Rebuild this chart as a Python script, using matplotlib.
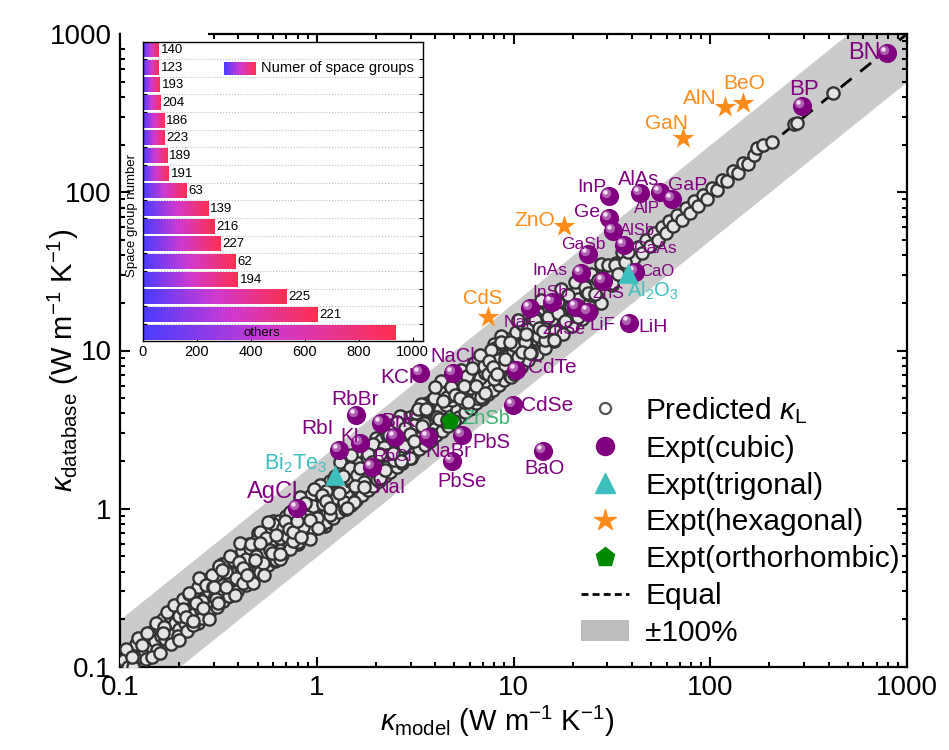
import numpy as np
import matplotlib
matplotlib.use("Agg")
import matplotlib.pyplot as plt
from matplotlib.lines import Line2D
from matplotlib.patches import Patch, Rectangle
from matplotlib.colors import LinearSegmentedColormap
from matplotlib.transforms import ScaledTranslation
from matplotlib.ticker import FixedLocator, LogLocator, NullFormatter, FuncFormatter

plt.rcParams.update({"font.family": "Liberation Sans", "mathtext.fontset": "custom",
                     "mathtext.rm": "Liberation Sans", "mathtext.it": "Liberation Sans:italic",
                     "mathtext.bf": "Liberation Sans:bold"})

# ---- predicted kappa_L (model, database) ----
pred = [(0.105,0.11),(0.11,0.1),(0.112,0.125),(0.118,0.108),(0.12,0.14),(0.125,0.118),(0.128,0.15),
 (0.132,0.128),(0.135,0.112),(0.14,0.155),(0.143,0.135),(0.147,0.17),(0.15,0.145),(0.155,0.128),
 (0.158,0.18),(0.162,0.158),(0.166,0.2),(0.17,0.15),(0.175,0.175),(0.18,0.21),(0.184,0.16),(0.19,0.19),
 (0.195,0.23),(0.2,0.175),(0.205,0.205),(0.21,0.25),(0.215,0.19),(0.22,0.23),(0.227,0.2),(0.233,0.27),
 (0.24,0.22),(0.245,0.25),(0.25,0.3),(0.257,0.23),(0.265,0.27),(0.27,0.33),(0.278,0.25),(0.285,0.3),
 (0.29,0.24),(0.3,0.35),(0.305,0.28),(0.315,0.32),(0.32,0.38),(0.33,0.29),(0.34,0.34),(0.345,0.41),
 (0.355,0.31),(0.365,0.37),(0.37,0.3),(0.38,0.45),(0.39,0.36),(0.4,0.41),(0.41,0.34),(0.42,0.5),
 (0.43,0.39),(0.44,0.45),(0.45,0.38),(0.46,0.55),(0.47,0.43),(0.485,0.5),(0.5,0.41),(0.51,0.58),
 (0.52,0.48),(0.535,0.54),(0.55,0.45),(0.56,0.64),(0.575,0.53),(0.59,0.6),(0.6,0.5),(0.615,0.7),
 (0.63,0.58),(0.645,0.66),(0.66,0.55),(0.675,0.77),(0.69,0.64),(0.705,0.72),(0.72,0.6),(0.74,0.85),
 (0.755,0.7),(0.77,0.79),(0.79,0.66),(0.81,0.93),(0.83,0.77),(0.85,0.87),(0.87,0.73),(0.89,1.02),
 (0.91,0.85),(0.93,0.95),(0.95,0.8),(0.97,1.1),(0.99,0.92),
 (1.01,1.04),(1.03,0.86),(1.06,1.22),(1.08,0.99),(1.1,1.12),(1.13,0.93),(1.15,1.35),(1.18,1.08),
 (1.2,1.24),(1.23,1.0),(1.26,1.46),(1.29,1.18),(1.32,1.36),(1.35,1.12),(1.38,1.6),(1.41,1.3),
 (1.44,1.49),(1.47,1.21),(1.5,1.74),(1.54,1.42),(1.57,1.62),(1.61,1.33),(1.64,1.9),(1.68,1.54),
 (1.72,1.77),(1.76,1.45),(1.8,2.06),(1.84,1.69),(1.88,1.94),(1.92,1.58),(1.97,2.25),(2.01,1.85),
 (2.06,2.12),(2.1,1.74),(2.15,2.46),(2.2,2.02),(2.25,2.32),(2.3,1.9),(2.35,2.7),(2.4,2.2),
 (2.46,2.54),(2.52,2.08),(2.57,2.95),(2.63,2.42),(2.69,2.78),(2.75,2.27),(2.81,3.22),(2.88,2.65),
 (2.94,3.03),(3.01,2.48),(3.08,3.53),(3.15,2.9),(3.22,3.32),(3.29,2.72),(3.37,3.86),(3.44,3.17),
 (3.52,3.63),(3.6,2.97),(3.68,4.22),(3.77,3.47),(3.85,3.97),(3.94,3.25),(4.03,4.62),(4.12,3.79),
 (4.21,4.34),(4.31,3.56),(4.41,5.05),(4.51,4.15),(4.61,4.75),(4.71,3.89),(4.82,5.52),(4.93,4.54),
 (5.04,5.2),(5.15,4.25),(5.27,6.04),(5.39,4.96),(5.51,5.68),(5.64,4.65),(5.77,6.6),(5.9,5.43),
 (6.03,6.22),(6.17,5.08),(6.31,7.22),(6.45,5.93),(6.6,6.8),(6.75,5.56),(6.9,7.9),(7.06,6.5),
 (7.22,7.44),(7.38,6.08),(7.55,8.64),(7.72,7.1),(7.9,8.14),(8.08,6.65),(8.26,9.45),(8.45,7.77),
 (8.64,8.9),(8.84,7.28),(9.04,10.3),(9.25,8.5),(9.46,9.75),(9.67,7.96),(9.89,11.3),
 (0.33,0.45),(0.5,0.7),(0.8,0.6),(1.4,1.0),(2.0,2.8),(3.0,2.1),(4.5,6.3),(6.0,4.3),(1.7,2.4),
 (2.7,3.8),(5.0,3.6),(8.0,11.0),(0.25,0.19),(0.6,0.84),(1.1,0.78),(7.0,5.0),
 (10.1,9.3),(10.4,10.9),(10.7,8.8),(11.0,12.6),(11.4,10.5),(11.8,12.2),(12.2,10.0),(12.6,14.4),
 (13.0,11.9),(13.5,13.9),(14.0,11.5),(14.5,16.6),(15.0,13.8),(15.6,16.1),(16.2,13.3),(16.8,19.3),
 (17.5,16.1),(18.2,18.8),(19.0,15.6),(19.8,22.7),(20.6,19.0),(21.5,22.2),(22.4,18.4),(23.4,26.9),
 (24.4,22.4),(25.5,26.3),(26.6,21.8),(27.8,31.9),(29.0,26.7),(30.3,31.3),(31.6,26.0),
 (33.0,35.5),(34.5,32.0),(36.0,38.0),(37.6,34.0),(39.3,42.0),(41.0,38.5),(43.0,45.0),(45.0,41.5),
 (47.0,50.0),(49.3,46.0),(51.6,55.0),(54.0,50.0),(56.6,60.0),(59.3,55.5),(62.0,66.0),(65.0,61.0),
 (68.0,72.0),(71.5,67.0),(75.0,79.0),(79.0,74.0),(83.0,88.0),(87.0,82.0),(91.5,96.0),(96.0,91.0),
 (102,107),(108,103),(115,120),(122,118),(130,136),(138,133),(147,152),(156,150),(166,172),
 (173,190),(185,199),(206,208),(266,270),(276,274),(421,424),
 (0.107,0.13),(0.116,0.1),(0.123,0.152),(0.137,0.165),(0.146,0.115),(0.152,0.19),(0.16,0.123),
 (0.168,0.178),(0.173,0.222),(0.182,0.14),(0.188,0.245),(0.197,0.158),(0.208,0.27),(0.218,0.17),
 (0.225,0.29),(0.236,0.185),(0.248,0.32),(0.26,0.205),(0.274,0.355),(0.282,0.22),(0.295,0.38),
 (0.31,0.24),(0.325,0.42),(0.335,0.26),(0.35,0.46),(0.36,0.28),(0.375,0.49),(0.395,0.3),(0.415,0.54),
 (0.435,0.33),(0.455,0.6),(0.475,0.37),(0.49,0.63),(0.515,0.4),(0.545,0.71),(0.565,0.44),
 (0.585,0.76),(0.61,0.47),(0.64,0.84),(0.665,0.51),(0.7,0.9),(0.73,0.56),(0.76,0.98),(0.8,0.62),
 (0.84,1.09),(0.88,0.68),(0.92,1.2),(0.96,0.74),
 (0.115,0.115),(0.13,0.138),(0.165,0.165),(0.2,0.21),(0.26,0.26),(0.31,0.3),(0.36,0.36),
 (0.41,0.42),(0.47,0.47),(0.53,0.52),(0.58,0.59),(0.65,0.65),(0.71,0.7),(0.78,0.78),(0.86,0.86),
 (0.94,0.95),
 (1.02,1.32),(1.05,0.78),(1.09,1.41),(1.12,0.82),(1.17,1.5),(1.21,0.88),(1.25,1.62),(1.3,0.95),
 (1.34,1.73),(1.39,1.0),(1.43,1.85),(1.49,1.06),(1.53,1.98),(1.59,1.14),(1.63,2.1),(1.7,1.22),
 (1.75,2.24),(1.82,1.31),(1.86,2.4),(1.94,1.4),(1.99,2.56),(2.08,1.5),(2.13,2.73),(2.22,1.6),
 (2.28,2.92),(2.37,1.7),(2.43,3.12),(2.55,1.83),(2.6,3.33),(2.72,1.95),(2.78,3.55),(2.9,2.08),
 (2.98,3.8),(3.1,2.23),(3.18,4.05),(3.3,2.38),(3.4,4.35),(3.54,2.54),(3.63,4.63),(3.79,2.72),
 (3.88,4.95),(4.05,2.91),(4.15,5.3),(4.33,3.1),(4.45,5.66),(4.63,3.32),(4.75,6.05),(4.95,3.55),
 (5.08,6.45),(5.3,3.8),(5.44,6.9),(5.66,4.06),(5.8,7.36),(6.05,4.34),(6.2,7.87),(6.47,4.64),
 (6.63,8.4),(6.92,4.96),(7.1,9.0),(7.4,5.3),(7.6,9.6),(7.9,5.66),(8.1,10.3),(8.45,6.05),(8.7,11.0),
 (9.0,6.47),(9.3,11.8),(9.6,6.9),
 (1.04,1.05),(1.16,1.16),(1.27,1.28),(1.37,1.37),(1.48,1.5),(1.6,1.6),(1.73,1.72),(1.87,1.88),
 (2.03,2.03),(2.18,2.2),(2.34,2.33),(2.5,2.52),(2.68,2.68),(2.87,2.88),(3.07,3.06),(3.28,3.3),
 (3.5,3.5),(3.73,3.74),(3.98,3.98),(4.25,4.26),(4.54,4.53),(4.85,4.86),(5.18,5.17),(5.53,5.55),
 (5.9,5.9),(6.3,6.3),(6.72,6.73),(7.17,7.16),(7.65,7.67),(8.16,8.15),(8.7,8.72),(9.3,9.29),
 (9.9,9.92),
 (10.3,13.0),(10.9,7.9),(11.3,14.2),(11.9,8.7),(12.4,15.6),(13.1,9.5),(13.7,17.0),(14.4,10.4),
 (15.2,18.6),(16.0,11.5),(16.9,20.4),(17.8,12.8),(18.8,22.3),(19.9,14.2),(21.0,24.5),(22.2,15.8),
 (23.5,26.8),(24.9,17.7),(26.3,29.3),(27.9,20.0),(10.5,10.5),(11.6,11.6),(12.8,12.9),(14.2,14.2),
 (15.7,15.7),(17.3,17.3),(19.2,19.1),(21.2,21.3),(23.4,23.4),(25.9,25.8),(28.6,28.6),(31.5,31.6)]

# more of the dense middle of the cloud (read as a band, estimated)
pred2_x = [0.2,0.208,0.216,0.225,0.234,0.243,0.253,0.263,0.274,0.285,0.296,0.308,0.32,0.333,0.346,
 0.36,0.375,0.39,0.405,0.421,0.438,0.456,0.474,0.493,0.513,0.533,0.555,0.577,0.6,0.624,
 0.649,0.675,0.702,0.73,0.759,0.79,0.821,0.854,0.888,0.924,0.961,0.999,1.04,1.08,1.12,
 1.17,1.22,1.26,1.31,1.37,1.42,1.48,1.54,1.6,1.66,1.73,1.8,1.87,1.94,2.02,
 2.1,2.19,2.27,2.36,2.46,2.56,2.66,2.77,2.88,2.99,3.11,3.24,3.37,3.5,3.64,
 3.79,3.94,4.1,4.26,4.43,4.61,4.79,4.98,5.18,5.39,5.6,5.83,6.06,6.3,6.56,
 6.82,7.09,7.38,7.67,7.98,8.3,8.63,8.98,9.34,9.71,10.1,10.5,10.9,11.4,11.8,
 12.3,12.8,13.3,13.8,14.4,14.9,15.5,16.1,16.8,17.5,18.2,18.9,19.7,20.5,21.3,
 22.1,23.0,23.9,24.9,25.9,26.9,28.0,29.1,30.3,31.5,32.7,34.0,35.4,36.8,38.3]
pred2_y = [0.148,0.233,0.207,0.295,0.194,0.255,0.364,0.237,0.329,0.2,0.32,0.268,0.435,0.33,0.401,
 0.281,0.476,0.363,0.608,0.341,0.482,0.561,0.341,0.503,0.718,0.453,0.655,0.548,0.798,0.474,
 0.48,0.756,0.674,0.956,0.63,0.83,1.18,0.769,1.066,0.647,1.038,0.869,1.414,1.069,1.3,
 0.913,1.549,1.172,1.965,1.11,1.562,1.82,1.109,1.632,2.324,1.47,2.124,1.777,2.58,1.535,
 1.554,2.453,2.179,3.092,2.042,2.688,3.83,2.493,3.456,2.093,3.359,2.819,4.583,3.465,4.222,
 2.956,5.004,3.813,6.39,3.588,5.071,5.892,3.586,5.284,7.546,4.76,6.879,5.757,8.379,4.986,
 5.047,7.941,7.085,10.05,6.623,8.715,12.43,8.082,11.21,6.797,10.91,9.135,14.82,11.29,13.69,
 9.594,16.26,12.37,20.7,11.66,16.39,19.07,11.59,17.14,24.5,15.47,22.3,18.72,27.27,16.19,
 18.1,25.3,23.2,30.4,22.8,28.0,35.0,26.8,34.8,26.8,34.7,30.6,41.8,36.4,42.1]
pred3_x = [0.3,0.315,0.33,0.347,0.364,0.382,0.401,0.421,0.442,0.464,0.487,0.512,0.537,0.564,0.592,
 0.622,0.653,0.686,0.72,0.756,0.794,0.834,0.875,0.919,0.965,1.013,1.064,1.117,1.173,1.232,
 1.293,1.358,1.426,1.497,1.572,1.65,1.733,1.82,1.911,2.006,2.107,2.212,2.323,2.439,2.561,
 2.689,2.823,2.964,3.113,3.268,3.432,3.603,3.783,3.973,4.171,4.38,4.599,4.829,5.07,5.324,
 5.59,5.87,6.163,6.471,6.795,7.135,7.492,7.866,8.259,8.672,9.106,9.561,10.04,10.54,11.07,
 11.62,12.2,12.81,13.45,14.12]
pred3_y = [0.318,0.252,0.413,0.319,0.502,0.287,0.461,0.421,0.38,0.603,0.472,0.609,0.381,0.829,0.527,
 0.678,0.516,0.837,0.742,0.711,0.842,0.667,1.094,0.845,1.332,0.76,1.224,1.117,1.009,1.602,
 1.254,1.616,1.012,2.2,1.399,1.799,1.369,2.22,1.968,1.886,2.233,1.77,2.904,2.244,3.534,
 2.017,3.246,2.964,2.677,4.248,3.329,4.288,2.686,5.84,3.712,4.774,3.633,5.891,5.222,5.005,
 5.925,4.696,7.704,5.953,9.377,5.351,8.616,7.866,7.103,11.27,8.833,11.38,7.128,15.49,9.852,
 12.67,9.638,15.63,13.85,13.27]
pred_x = [p[0] for p in pred] + pred2_x + pred3_x
pred_y = [p[1] for p in pred] + pred2_y + pred3_y

# ---- experiments ----
cubic_names = ["BN","BP","InP","AlAs","AlP","GaP","Ge","AlSb","GaAs","GaSb","InAs","CaO","ZnS",
               "InSb","NaF","ZnSe","LiF","LiH","NaCl","KCl","CdTe","CdSe","RbBr","BrK","KI","RbCl",
               "NaBr","PbS","PbSe","BaO","RbI","NaI","AgCl"]
cubic_x = [791,292,30.5,44,55.6,64,30.5,32,36.5,23.9,22.0,41.5,28.5,15.7,12.1,20.8,23.9,38.6,
           4.92,3.35,10.3,9.94,1.58,2.12,1.66,2.50,3.67,5.47,4.86,14.1,1.30,1.91,0.794]
cubic_y = [759,351,94.6,98.9,100,90.5,68.5,56.9,46.4,40.6,30.8,31.3,27.6,20.2,18.5,18.9,17.6,15.0,
           7.21,7.21,7.54,4.53,3.91,3.48,2.60,2.84,2.84,2.92,2.0,2.32,2.35,1.84,1.01]
trig_names = ["Al$_2$O$_3$","Bi$_2$Te$_3$"]
trig_x = [38.2,1.24]
trig_y = [30.8,1.63]
hex_names = ["CdS","ZnO","GaN","AlN","BeO"]
hex_x = [7.41,18.1,72.8,119,147]
hex_y = [16.3,61.2,220,346,367]
orth_names = ["ZnSb"]
orth_x = [4.75]
orth_y = [3.59]

# ---- inset: space groups ----
sg_labels = ["140","123","193","204","186","223","189","191","63","139","216","227","62","194",
             "225","221","others"]
sg_counts = [58,58,62,64,79,80,91,95,160,242,265,288,343,352,531,648,936]

# label layout: (dx px, dy px, fontsize)
LAB = {"BN":(-23,0,17),"BP":(2,16,16),"InP":(-17,9,14),"AlAs":(-1,14,14.5),"AlP":(-13,-16,12),
 "GaP":(16,14,14),"Ge":(-22,6,14),"AlSb":(25,1,12),"GaAs":(31,-3,12.5),"GaSb":(-5,10,12.5),
 "InAs":(-31,3,12.5),"CaO":(22,1,12),"ZnS":(5,-13,12.5),"InSb":(-2,10,12.5),"NaF":(-10,-14,12.5),
 "ZnSe":(-12,-23,13),"LiF":(14,-14,13.5),"LiH":(24,-5,14),"NaCl":(0,16,14.5),"KCl":(-23,-5,15),
 "CdTe":(36,2,15),"CdSe":(34,-1,15),"RbBr":(-1,16,15),"BrK":(18,2,15),"KI":(-10,7,14.5),
 "RbCl":(-2,-19,12.5),"NaBr":(20,-14,14.5),"PbS":(29,-7,14.5),"PbSe":(10,-20,14.5),"BaO":(2,-18,14.5),
 "RbI":(-22,22,15),"NaI":(18,-21,14.5),"AgCl":(-24,16,17),"Al$_2$O$_3$":(25,-18,14.5),
 "Bi$_2$Te$_3$":(-40,12,15.5),"CdS":(-5,18,14.5),"ZnO":(-29,5,15),"GaN":(-17,15,15),
 "AlN":(-25,8,15),"BeO":(1,19,15),"ZnSb":(36,2,14.5)}

PUR = "#800080"; CYA = "#3ebfbf"; ORA = "#ff8c1a"; GRE = "#008a00"; GRE_T = "#3cb371"

fig = plt.figure(figsize=(9.49, 7.5), dpi=100)
ax = fig.add_axes([120/949, 1-667/750, 787/949, 633/750])
ax.set_xscale("log"); ax.set_yscale("log")
ax.set_xlim(0.1, 1000); ax.set_ylim(0.1, 1000)

diag = np.array([0.1, 1000])
ax.fill_between(diag, diag/2, diag*2, color="#cbcbcb", lw=0, zorder=1)
ax.plot(diag, diag, color="k", lw=2, ls=(0, (5, 4)), zorder=2)
ax.scatter(pred_x, pred_y, s=78, facecolor="#e4e4e4", edgecolor="#333333", lw=1.7, zorder=3)

ax.scatter(cubic_x, cubic_y, s=190, color=PUR, lw=0, zorder=5)
hl1 = ax.transData + ScaledTranslation(-2/72, 2/72, fig.dpi_scale_trans)
hl2 = ax.transData + ScaledTranslation(-3/72, 3/72, fig.dpi_scale_trans)
ax.scatter(cubic_x, cubic_y, s=45, color="#b060b0", lw=0, zorder=5, transform=hl1)
ax.scatter(cubic_x, cubic_y, s=10, color="#f4e0f4", lw=0, zorder=5, transform=hl2)
ax.scatter(trig_x, trig_y, s=220, marker="^", color=CYA, lw=0, zorder=5)
ax.scatter(hex_x, hex_y, s=270, marker="*", color=ORA, lw=0, zorder=5)
ax.scatter(orth_x, orth_y, s=190, marker="p", color=GRE, lw=0, zorder=5)

def label(names, xs, ys, color):
    for n, x, y in zip(names, xs, ys):
        dx, dy, fs = LAB[n]
        ax.annotate(n, (x, y), xytext=(dx*0.72, dy*0.72), textcoords="offset points",
                    ha="center", va="center", fontsize=fs, color=color, zorder=6)

label(cubic_names, cubic_x, cubic_y, PUR)
label(trig_names, trig_x, trig_y, CYA)
label(hex_names, hex_x, hex_y, ORA)
label(orth_names, orth_x, orth_y, GRE_T)

major = [0.1, 1, 10, 100, 1000]
for a in (ax.xaxis, ax.yaxis):
    a.set_major_locator(FixedLocator(major))
    a.set_major_formatter(FuncFormatter(lambda v, p: f"{v:g}"))
    a.set_minor_locator(LogLocator(base=10, subs=np.arange(2, 10)))
    a.set_minor_formatter(NullFormatter())
ax.tick_params(which="both", direction="in", top=True, right=True, width=1.5, labelsize=20)
ax.tick_params(which="major", length=7, pad=6)
ax.tick_params(which="minor", length=3.5)
for s in ax.spines.values():
    s.set_linewidth(1.6)

ax.set_xlabel(r"$\kappa_{\mathrm{model}}$ (W m$^{-1}$ K$^{-1}$)", fontsize=21)
ax.set_ylabel(r"$\kappa_{\mathrm{database}}$ (W m$^{-1}$ K$^{-1}$)", fontsize=21)
ax.xaxis.set_label_coords(0.48, -0.058)
ax.yaxis.set_label_coords(-0.05, 0.485)

handles = [Line2D([], [], ls="none", marker="o", ms=8, mfc="white", mec="#555555", mew=1.6),
           Line2D([], [], ls="none", marker="o", ms=13, mfc=PUR, mec=PUR),
           Line2D([], [], ls="none", marker="^", ms=14, mfc=CYA, mec=CYA),
           Line2D([], [], ls="none", marker="*", ms=16, mfc=ORA, mec=ORA),
           Line2D([], [], ls="none", marker="p", ms=14, mfc=GRE, mec=GRE),
           Line2D([], [], color="k", lw=2, ls=(0, (2.5, 1.5))),
           Patch(facecolor="#bdbdbd", edgecolor="none")]
labels = [r"Predicted $\kappa_{\mathrm{L}}$", "Expt(cubic)", "Expt(trigonal)", "Expt(hexagonal)",
          "Expt(orthorhombic)", "Equal", "±100%"]
ax.legend(handles, labels, loc="upper left", bbox_to_anchor=(0.586, 0.43), frameon=False,
          fontsize=21.5, handlelength=1.6, handletextpad=0.55, labelspacing=0.3,
          borderaxespad=0, borderpad=0)

# cover over top-left spine (as in original)
fig.patches.append(Rectangle((121/949, 1-43/750), 87/949, 14/750, transform=fig.transFigure,
                             facecolor="white", edgecolor="none", zorder=2))

# ---- inset ----
cmap = LinearSegmentedColormap.from_list("bg", ["#4a3cff", "#cf3ad2", "#ff3050"])
grad = np.linspace(0, 1, 256).reshape(1, -1)
axi = fig.add_axes([142.7/949, 1-341/750, 280.6/949, 299.3/750])
axi.set_zorder(3)
for i, v in enumerate(sg_counts):
    axi.imshow(grad, extent=[0, v, i+0.4, i-0.4], cmap=cmap, aspect="auto", zorder=2,
               interpolation="bilinear")
    if sg_labels[i] == "others":
        axi.text(v*0.47, i, sg_labels[i], ha="center", va="center", fontsize=9.5, zorder=3)
    else:
        axi.text(v+8, i, sg_labels[i], ha="left", va="center", fontsize=9.5, zorder=3)
axi.set_xlim(0, 1040)
axi.set_ylim(len(sg_counts)-0.53, -0.47)
axi.set_xticks([0, 200, 400, 600, 800, 1000])
axi.set_yticks(np.arange(0.5, len(sg_counts)-1, 1))
axi.set_yticklabels([])
axi.grid(axis="y", ls=":", color="#bdbdbd", lw=0.8, zorder=0)
axi.set_axisbelow(True)
axi.tick_params(axis="x", direction="in", length=3, labelsize=10.5, pad=3)
axi.tick_params(axis="y", direction="in", length=3, left=True, right=True)
for s in axi.spines.values():
    s.set_linewidth(1.0)
axi.set_ylabel("Space group number", fontsize=9.5)
axi.yaxis.set_label_coords(-0.015, 0.42)

axl = fig.add_axes([224/949, 1-75/750, 32/949, 13/750])
axl.set_zorder(4)
axl.imshow(grad, cmap=cmap, aspect="auto", interpolation="bilinear")
axl.axis("off")
fig.text(261/949, 1-68/750, "Numer of space groups", fontsize=10.5, va="center", ha="left", zorder=5)

fig.savefig("out.png", dpi=100)
